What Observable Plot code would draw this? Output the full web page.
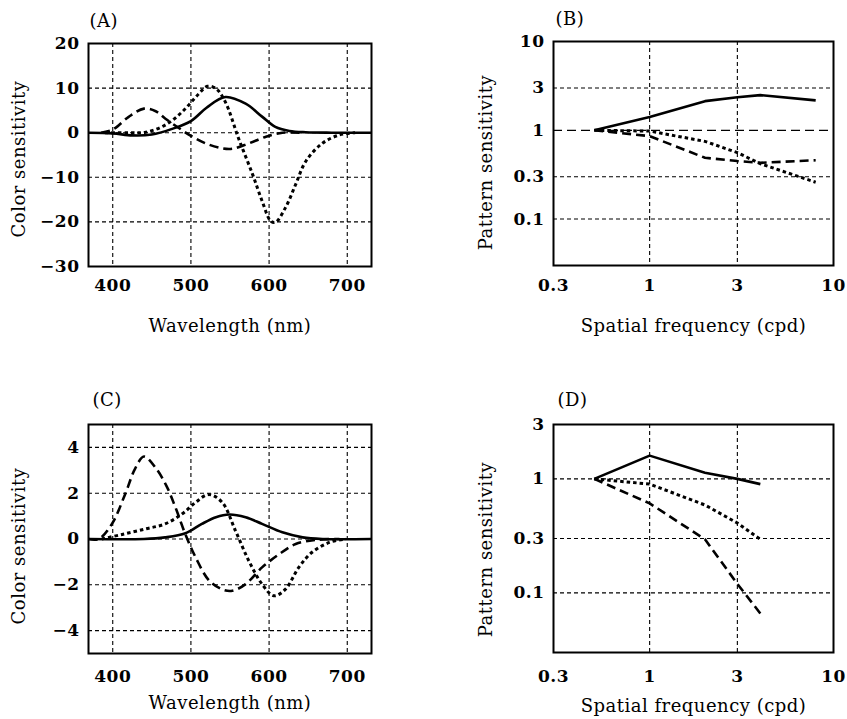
<!DOCTYPE html>
<html><head><meta charset="utf-8">
<script src="https://cdn.jsdelivr.net/npm/d3@7"></script>
<script src="https://cdn.jsdelivr.net/npm/@observablehq/plot@0.6"></script>
<style>
body{margin:0;background:#fff;}
#wrap{position:relative;width:847px;height:719px;background:#fff;}
#wrap svg{position:absolute;overflow:visible;}
#wrap text{letter-spacing:0.5px;}
</style></head><body><div id="wrap"></div>
<script>
const FONT = "DejaVu Serif";
// tick labels
const wlTicks = [400, 500, 600, 700];
const sfTicks = [0.3, 1, 3, 10];
const aYTicks = [-30, -20, -10, 0, 10, 20];
const cYTicks = [-4, -2, 0, 2, 4];
const bYTicks = [0.1, 0.3, 1, 3, 10];
const dYTicks = [0.1, 0.3, 1, 3];

// Panel A: color sensitivity vs wavelength
const aSolidWl = [369, 400, 425, 450, 475, 500, 520, 544, 570, 591, 608, 626, 647, 680, 731];
const aSolidV  = [0, -0.15, -0.6, -0.4, 0.8, 2.6, 5.6, 8.0, 6.5, 3.6, 1.3, 0.4, 0.1, 0, 0];
const aDashWl  = [385, 400, 420, 440, 455, 467, 485, 500, 519, 540, 553, 574, 596, 617, 640];
const aDashV   = [0, 0.7, 3.5, 5.4, 4.8, 3.2, 1.0, -0.7, -2.4, -3.5, -3.6, -2.4, -0.9, 0, 0];
const aDotWl   = [390, 420, 442, 467, 489, 510, 521, 532, 544, 561, 579, 591, 602, 608, 621, 634, 647, 668, 690, 710];
const aDotV    = [0, 0, 0.1, 1.7, 4.7, 8.7, 10.4, 9.9, 6.9, -1.3, -9.4, -15.3, -19.8, -20.1, -16.8, -11.6, -6.4, -2.4, -0.5, 0];

// Panel C: color sensitivity vs wavelength
const cSolidWl = [369, 440, 467, 493, 514, 532, 549, 570, 591, 617, 643, 668, 731];
const cSolidV  = [0, 0, 0.07, 0.25, 0.66, 0.95, 1.07, 0.95, 0.66, 0.29, 0.07, 0, 0];
const cDashWl  = [369, 382, 399, 416, 429, 440, 455, 469, 480, 493, 506, 523, 540, 553, 570, 591, 613, 634, 660, 690];
const cDashV   = [0, 0, 0.66, 1.97, 3.1, 3.6, 3.1, 2.3, 1.4, 0.2, -0.8, -1.8, -2.2, -2.26, -1.97, -1.24, -0.66, -0.22, -0.04, 0];
const cDotWl   = [386, 412, 442, 467, 489, 506, 523, 540, 557, 574, 591, 606, 621, 638, 655, 677, 698];
const cDotV    = [0, 0.2, 0.44, 0.66, 1.1, 1.6, 1.94, 1.6, 0.36, -0.95, -1.97, -2.48, -2.19, -1.24, -0.58, -0.15, 0];

// Panel B: pattern sensitivity vs spatial frequency
const bFreq   = [0.5, 1, 2, 3, 4, 8];
const bSolid  = [1, 1.41, 2.13, 2.36, 2.49, 2.17];
const bDash   = [1, 0.86, 0.49, 0.45, 0.43, 0.46];
const bDot    = [1, 0.98, 0.75, 0.56, 0.42, 0.26];

// Panel D: pattern sensitivity vs spatial frequency
const dFreq   = [0.5, 1, 2, 3, 4];
const dSolid  = [1, 1.6, 1.13, 1.0, 0.9];
const dDot    = [1, 0.9, 0.59, 0.41, 0.295];
const dDash   = [1, 0.61, 0.295, 0.12, 0.066];

function rows(xs, ys, s) { return xs.map((x, i) => ({x, y: ys[i], s})); }
const fmtLin = d => d < 0 ? "\u2212" + Math.abs(d) : String(d);
const fmtLog = d => String(d);

function panel(p) {
  const gridStyle = {stroke: "black", strokeWidth: 1.1, strokeDasharray: "4,3"};
  const tickFont = {fontSize: 17, fontWeight: "bold", fontFamily: FONT};
  const marks = [
    Plot.ruleX(p.xGrid, gridStyle),
    Plot.ruleY(p.yGrid, gridStyle),
  ];
  if (p.oneLine) marks.push(Plot.ruleY([1], {stroke: "black", strokeWidth: 1.3, strokeDasharray: "9,5"}));
  const lineBase = {x: "x", y: "y", stroke: "black", curve: p.curve, strokeLinecap: "butt", strokeLinejoin: "round"};
  marks.push(
    Plot.line(p.data.filter(d => d.s === "solid"), {...lineBase, strokeWidth: 2.6}),
    Plot.line(p.data.filter(d => d.s === "dash"), {...lineBase, strokeWidth: 2.6, strokeDasharray: "9,5"}),
    Plot.line(p.data.filter(d => d.s === "dot"), {...lineBase, strokeWidth: 3, strokeDasharray: "3.5,3"}),
    Plot.frame({stroke: "black", strokeWidth: 2}),
    // tick labels placed through the scales
    Plot.text(p.xTicks, {x: d => d, text: p.fmt, frameAnchor: "bottom", dy: p.xTickDy, lineAnchor: "middle", ...tickFont}),
    Plot.text(p.yTicks, {y: d => d, text: p.fmt, frameAnchor: "left", dx: -9, textAnchor: "end", lineAnchor: "middle", ...tickFont}),
    Plot.text([p.tag], {frameAnchor: "top-left", dx: p.tagDx, dy: p.tagDy, textAnchor: "start", lineAnchor: "middle", fontSize: 18, fontFamily: FONT}),
    Plot.text([p.xLabel], {frameAnchor: "bottom", dy: p.xLabDy, textAnchor: "middle", lineAnchor: "middle", fontSize: 18, fontFamily: FONT}),
    Plot.text([p.yLabel], {frameAnchor: "left", dx: p.yLabDx, dy: p.yLabDy, rotate: -90, textAnchor: "middle", lineAnchor: "middle", fontSize: 18, fontFamily: FONT})
  );
  const svg = Plot.plot({
    width: p.w, height: p.h,
    marginLeft: p.mL, marginTop: p.mT, marginRight: p.mR, marginBottom: p.mB,
    style: {fontFamily: FONT, fontSize: "17px", background: "transparent", color: "black"},
    x: {type: p.xType, domain: p.xDomain, axis: null},
    y: {type: p.yType, domain: p.yDomain, axis: null},
    marks
  });
  svg.style.left = p.left + "px";
  svg.style.top = p.top + "px";
  document.getElementById("wrap").appendChild(svg);
}

const wlDomain = [369, 731];
const sfDomain = [0.3, 10];

panel({
  left: 0, top: 0, w: 423, h: 360, mL: 88, mT: 43, mR: 52, mB: 94,
  xType: "linear", xDomain: wlDomain, yType: "linear", yDomain: [-30, 20],
  xGrid: wlTicks, yGrid: [-20, -10, 0, 10], xTicks: wlTicks, yTicks: aYTicks,
  fmt: fmtLin, xTickDy: 19, curve: "catmull-rom",
  data: [...rows(aSolidWl, aSolidV, "solid"), ...rows(aDashWl, aDashV, "dash"), ...rows(aDotWl, aDotV, "dot")],
  tag: "(A)", tagDx: 1, tagDy: -22,
  xLabel: "Wavelength (nm)", xLabDy: 60,
  yLabel: "Color sensitivity", yLabDx: -69, yLabDy: 4
});

panel({
  left: 423, top: 0, w: 424, h: 360, mL: 130, mT: 41, mR: 14, mB: 95,
  xType: "log", xDomain: sfDomain, yType: "log", yDomain: [0.03, 10],
  xGrid: [1, 3], yGrid: [0.1, 0.3, 3], xTicks: sfTicks, yTicks: bYTicks, oneLine: true,
  fmt: fmtLog, xTickDy: 20, curve: "linear",
  data: [...rows(bFreq, bSolid, "solid"), ...rows(bFreq, bDash, "dash"), ...rows(bFreq, bDot, "dot")],
  tag: "(B)", tagDx: 2, tagDy: -22,
  xLabel: "Spatial frequency (cpd)", xLabDy: 61,
  yLabel: "Pattern sensitivity", yLabDx: -67, yLabDy: 9
});

panel({
  left: 0, top: 360, w: 423, h: 359, mL: 88, mT: 64, mR: 52, mB: 66,
  xType: "linear", xDomain: wlDomain, yType: "linear", yDomain: [-5, 5],
  xGrid: wlTicks, yGrid: cYTicks, xTicks: wlTicks, yTicks: cYTicks,
  fmt: fmtLin, xTickDy: 23, curve: "catmull-rom",
  data: [...rows(cSolidWl, cSolidV, "solid"), ...rows(cDashWl, cDashV, "dash"), ...rows(cDotWl, cDotV, "dot")],
  tag: "(C)", tagDx: 4, tagDy: -24,
  xLabel: "Wavelength (nm)", xLabDy: 50,
  yLabel: "Color sensitivity", yLabDx: -69, yLabDy: 7
});

panel({
  left: 423, top: 360, w: 424, h: 359, mL: 130, mT: 64, mR: 14, mB: 67,
  xType: "log", xDomain: sfDomain, yType: "log", yDomain: [0.03, 3],
  xGrid: [1, 3], yGrid: [0.1, 0.3, 1], xTicks: sfTicks, yTicks: dYTicks,
  fmt: fmtLog, xTickDy: 24, curve: "linear",
  data: [...rows(dFreq, dSolid, "solid"), ...rows(dFreq, dDash, "dash"), ...rows(dFreq, dDot, "dot")],
  tag: "(D)", tagDx: 4, tagDy: -24,
  xLabel: "Spatial frequency (cpd)", xLabDy: 54,
  yLabel: "Pattern sensitivity", yLabDx: -67, yLabDy: 11
});
</script></body></html>
